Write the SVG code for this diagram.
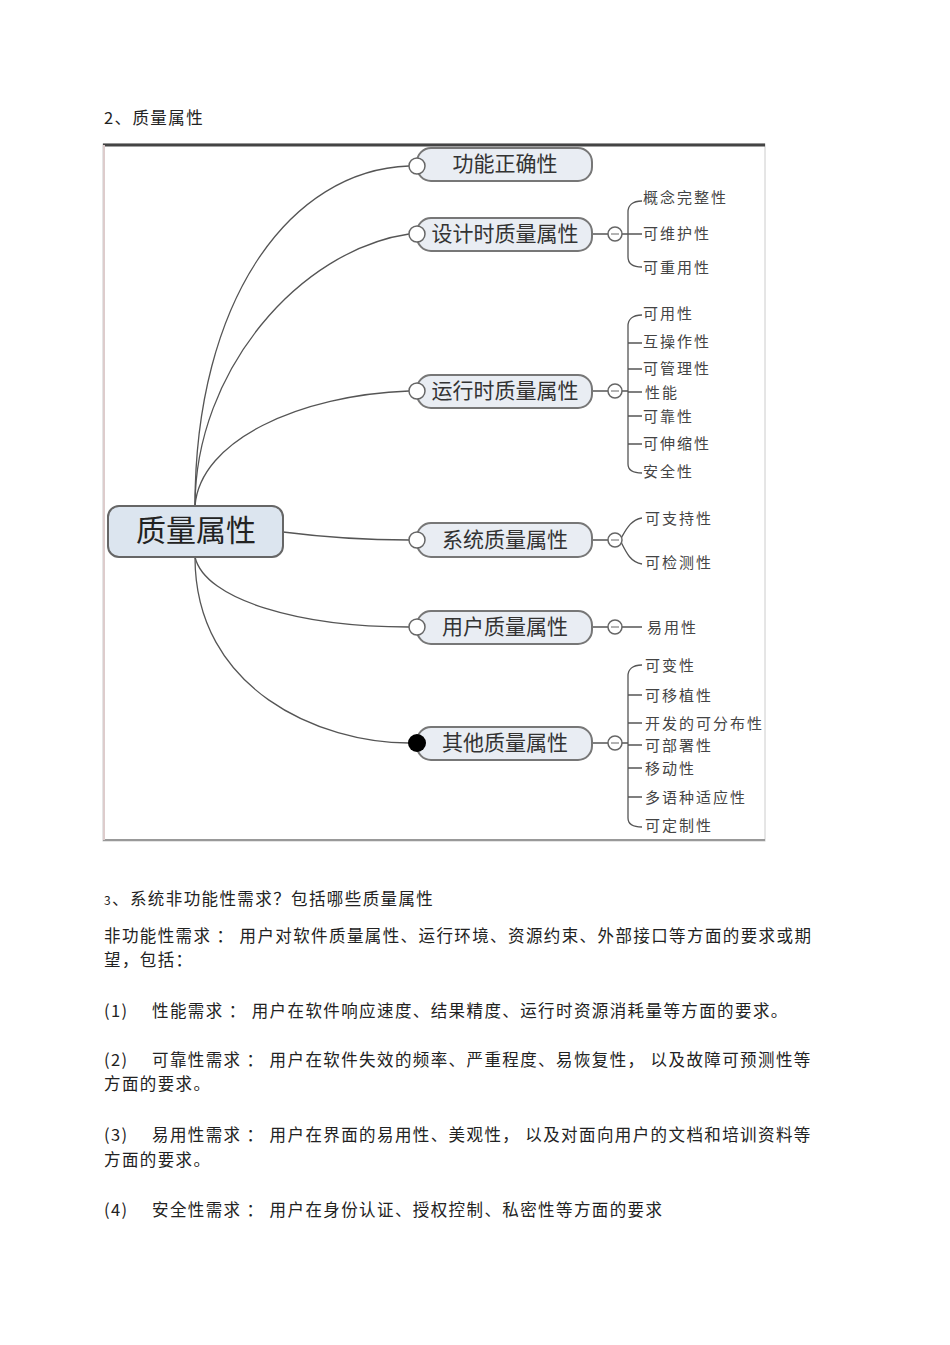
<svg xmlns="http://www.w3.org/2000/svg" width="950" height="1345" viewBox="0 0 950 1345">
<style>
text{font-family:"Noto Sans CJK SC","Liberation Sans",sans-serif;fill:#222}
.body{font-size:16.5px;letter-spacing:1.4px}
.pill{fill:#e9edf3;stroke:#777;stroke-width:2}
.br{font-size:21px;fill:#333;text-anchor:middle}
.leaf{font-size:15px;fill:#444;letter-spacing:2px}
.con{fill:none;stroke:#555;stroke-width:1.3}
.oc{fill:#fff;stroke:#666;stroke-width:1.5}
</style>
<rect width="950" height="1345" fill="#fff"/>
<text class="body" x="104" y="124">2、质量属性</text>
<rect x="103" y="144" width="662" height="697" fill="#fff" stroke="#ccc"/>
<line x1="103" y1="145" x2="765" y2="145" stroke="#444" stroke-width="3"/>
<line x1="103" y1="840" x2="765" y2="840" stroke="#999" stroke-width="2"/>
<line x1="104" y1="145" x2="104" y2="840" stroke="#dcc" stroke-width="2"/>
<g id="connectors">
<path class="con" d="M195,506 C195,300 290,170 409,166"/>
<path class="con" d="M195,506 C195,370 300,250 409,234"/>
<path class="con" d="M195,506 C200,440 300,395 409,391"/>
<path class="con" d="M283,532 C330,538 380,540 409,540"/>
<path class="con" d="M195,557 C205,600 300,627 409,627"/>
<path class="con" d="M195,557 C195,690 320,743 409,743"/>
<path class="con" d="M592,234 H608 M622,234 H642 M642,201 C632,201 628,206 628,212 V257 C628,263 632,267 642,267"/>
<path class="con" d="M592,391 H608 M622,391 H628 M642,315 C632,315 628,320 628,326 V464 C628,470 632,473 642,473 M628,343 H642 M628,369 H642 M628,392 H642 M628,416 H642 M628,444 H642"/>
<path class="con" d="M592,540 H608 M620,540 C626,530 630,520 642,518 M620,540 C626,552 630,562 642,564"/>
<path class="con" d="M592,627 H608 M622,627 H642"/>
<path class="con" d="M592,743 H608 M622,743 H628 M642,665 C632,665 628,670 628,676 V818 C628,824 632,827 642,827 M628,695 H642 M628,723 H642 M628,745 H642 M628,768 H642 M628,797 H642"/>
</g>
<g id="root"><rect x="108" y="506" width="175" height="51" rx="11" fill="#dce5ef" stroke="#666" stroke-width="2"/><text x="196" y="541" font-size="30" text-anchor="middle" fill="#333">质量属性</text></g>
<g id="n1"><rect class="pill" x="417" y="148" width="175" height="33" rx="14"/><circle class="oc" cx="417" cy="166" r="8"/><text class="br" x="505" y="171">功能正确性</text></g>
<g id="n2"><rect class="pill" x="417" y="218" width="175" height="33" rx="14"/><circle class="oc" cx="417" cy="234" r="8"/><text class="br" x="505" y="241">设计时质量属性</text><circle class="oc" cx="615" cy="234" r="7"/><line x1="611" y1="234" x2="619" y2="234" stroke="#666"/></g>
<g id="n3"><rect class="pill" x="417" y="375" width="175" height="33" rx="14"/><circle class="oc" cx="417" cy="391" r="8"/><text class="br" x="505" y="398">运行时质量属性</text><circle class="oc" cx="615" cy="391" r="7"/><line x1="611" y1="391" x2="619" y2="391" stroke="#666"/></g>
<g id="n4"><rect class="pill" x="417" y="523" width="175" height="34" rx="14"/><circle class="oc" cx="417" cy="540" r="8"/><text class="br" x="505" y="547">系统质量属性</text><circle class="oc" cx="615" cy="540" r="7"/><line x1="611" y1="540" x2="619" y2="540" stroke="#666"/></g>
<g id="n5"><rect class="pill" x="417" y="611" width="175" height="33" rx="14"/><circle class="oc" cx="417" cy="627" r="8"/><text class="br" x="505" y="634">用户质量属性</text><circle class="oc" cx="615" cy="627" r="7"/><line x1="611" y1="627" x2="619" y2="627" stroke="#666"/></g>
<g id="n6"><rect class="pill" x="417" y="727" width="175" height="33" rx="14"/><circle cx="417" cy="743" r="9" fill="#000"/><text class="br" x="505" y="750">其他质量属性</text><circle class="oc" cx="615" cy="743" r="7"/><line x1="611" y1="743" x2="619" y2="743" stroke="#666"/></g>
<g id="leaves">
<text class="leaf" x="643" y="203">概念完整性</text>
<text class="leaf" x="643" y="239">可维护性</text>
<text class="leaf" x="643" y="273">可重用性</text>
<text class="leaf" x="643" y="319">可用性</text>
<text class="leaf" x="643" y="347">互操作性</text>
<text class="leaf" x="643" y="374">可管理性</text>
<text class="leaf" x="645" y="398">性能</text>
<text class="leaf" x="643" y="422">可靠性</text>
<text class="leaf" x="643" y="449">可伸缩性</text>
<text class="leaf" x="643" y="477">安全性</text>
<text class="leaf" x="645" y="524">可支持性</text>
<text class="leaf" x="645" y="568">可检测性</text>
<text class="leaf" x="647" y="633">易用性</text>
<text class="leaf" x="645" y="671">可变性</text>
<text class="leaf" x="645" y="701">可移植性</text>
<text class="leaf" x="645" y="729">开发的可分布性</text>
<text class="leaf" x="645" y="751">可部署性</text>
<text class="leaf" x="645" y="774">移动性</text>
<text class="leaf" x="645" y="803">多语种适应性</text>
<text class="leaf" x="645" y="831">可定制性</text>
</g>
<text class="body" x="104" y="905"><tspan font-size="12">3</tspan>、系统非功能性需求？包括哪些质量属性</text>
<text class="body" x="104" y="942">非功能性需求 ： 用户对软件质量属性、运行环境、资源约束、外部接口等方面的要求或期</text>
<text class="body" x="104" y="966">望，包括：</text>
<text class="body" x="104" y="1017">(1)<tspan x="152">性能需求 ： 用户在软件响应速度、结果精度、运行时资源消耗量等方面的要求。</tspan></text>
<text class="body" x="104" y="1066">(2)<tspan x="152">可靠性需求 ： 用户在软件失效的频率、严重程度、易恢复性， 以及故障可预测性等</tspan></text>
<text class="body" x="104" y="1090">方面的要求。</text>
<text class="body" x="104" y="1141">(3)<tspan x="152">易用性需求 ： 用户在界面的易用性、美观性， 以及对面向用户的文档和培训资料等</tspan></text>
<text class="body" x="104" y="1166">方面的要求。</text>
<text class="body" x="104" y="1216">(4)<tspan x="152">安全性需求 ： 用户在身份认证、授权控制、私密性等方面的要求</tspan></text>
</svg>
